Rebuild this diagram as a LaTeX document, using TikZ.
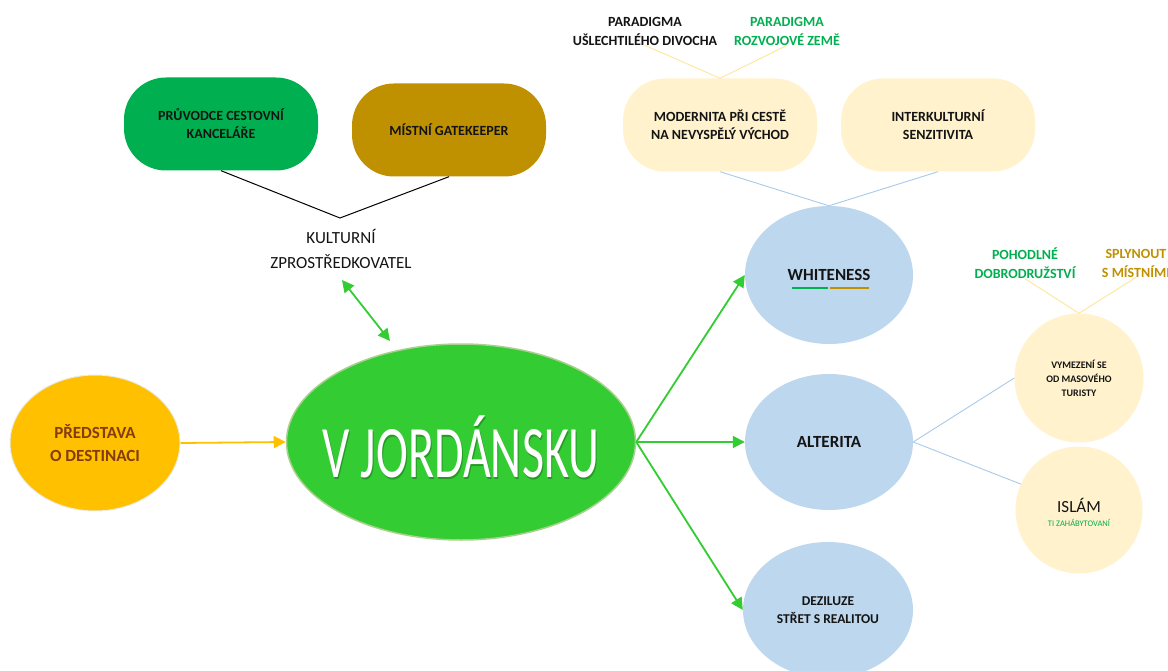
\documentclass[tikz,border=0pt]{standalone}
\usepackage{fontspec}
\setmainfont{Carlito}
\newfontfamily\titlefont[FakeStretch=0.65]{Carlito}
\usetikzlibrary{shapes.geometric,arrows.meta}
\definecolor{cOrange}{HTML}{FFC000}
\definecolor{cBrownTxt}{HTML}{843C0C}
\definecolor{cMainGreen}{HTML}{33CC33}
\definecolor{cMainBorder}{HTML}{A9D18E}
\definecolor{cGreen}{HTML}{00B050}
\definecolor{cGold}{HTML}{BF9000}
\definecolor{cPale}{HTML}{FFF2CC}
\definecolor{cPaleLine}{HTML}{FFE699}
\definecolor{cBlue}{HTML}{BDD7EE}
\definecolor{cBlueLine}{HTML}{A9CBEA}
\definecolor{cArrow}{HTML}{33CC33}
\definecolor{cTxt}{HTML}{141414}
\tikzset{
  pill/.style={rectangle, rounded corners=42pt, minimum width=194pt, minimum height=93pt, inner sep=0pt, align=center, text=cTxt, font=\bfseries\fontsize{14}{18}\selectfont},
  oval/.style={ellipse, inner sep=0pt, align=center, text=cTxt},
  lbl/.style={align=center, inner sep=0pt, font=\bfseries\fontsize{14}{19}\selectfont},
  garrow/.style={draw=cArrow, line width=1.8pt, -{Triangle[length=12pt,width=12pt]}},
  plline/.style={draw=cPaleLine, line width=0.9pt},
  blline/.style={draw=cBlueLine, line width=0.9pt}
}
\begin{document}
\begin{tikzpicture}[x=1pt,y=-1pt]
\useasboundingbox[fill=white] (0,0) rectangle (1168,671);
\begin{scope}
\clip (0,0) rectangle (1168,671);
% left part
\node[oval, fill=cOrange, draw=black!8, line width=1pt, minimum width=170pt, minimum height=136pt, text=cBrownTxt, font=\bfseries\fontsize{17}{23}\selectfont] (pred) at (95,443) {PŘEDSTAVA\\O DESTINACI};
\node[oval, fill=cMainGreen, draw=cMainBorder, line width=1.5pt, minimum width=349pt, minimum height=196pt] (main) at (461,442) {};
\node[text=black!25!cMainGreen, inner sep=0pt, font=\titlefont\fontsize{74}{74}\selectfont] at (462,449) {V JORDÁNSKU};
\node[text=white, inner sep=0pt, font=\titlefont\fontsize{74}{74}\selectfont] (title) at (461,447) {V JORDÁNSKU};
\draw[draw=cOrange, line width=1.8pt, -{Triangle[length=12pt,width=12pt]}] (pred.east) -- (main.west);

\node[pill, fill=cGreen] (pruv) at (221,124) {PRŮVODCE CESTOVNÍ\\KANCELÁŘE};
\node[pill, fill=cGold] (gate) at (449,130) {MÍSTNÍ GATEKEEPER};
\coordinate (apex) at (340,218);
\draw[black, line width=1pt] (pruv.south) -- (apex) -- (gate.south);
\node[align=center, inner sep=0pt, text=cTxt, font=\fontsize{17}{25}\selectfont] (kult) at (341,249) {KULTURNÍ\\ZPROSTŘEDKOVATEL};
\coordinate (da1) at (342,280);
\coordinate (da2) at (390,341);
\draw[draw=cArrow, line width=1.8pt, {Triangle[length=12pt,width=12pt]}-{Triangle[length=12pt,width=12pt]}] (da1) -- (da2);

% right column
\node[oval, fill=cBlue, minimum width=168pt, minimum height=138pt, font=\bfseries\fontsize{17}{20}\selectfont] (white) at (829,275) {WHITENESS};
\draw[cGreen, line width=2pt] (792,288.5) -- (828,288.5);
\draw[cGold, line width=2pt] (830,288.5) -- (869,288.5);
\node[oval, fill=cBlue, minimum width=168pt, minimum height=136pt, font=\bfseries\fontsize{17}{20}\selectfont] (alt) at (829,442) {ALTERITA};
\node[oval, fill=cBlue, minimum width=170pt, minimum height=136pt, font=\bfseries\fontsize{13.5}{18}\selectfont] (dez) at (828,610) {DEZILUZE\\STŘET S REALITOU};
\draw[garrow] (main.east) -- (white.west);
\draw[garrow] (main.east) -- (alt.west);
\draw[garrow] (main.east) -- (dez.west);

\node[pill, fill=cPale] (mod) at (720,125) {MODERNITA PŘI CESTĚ\\NA NEVYSPĚLÝ VÝCHOD};
\node[pill, fill=cPale] (inter) at (938,125) {INTERKULTURNÍ\\SENZITIVITA};
\draw[blline] (mod.south) -- (white.north) -- (inter.south);

\node[lbl, text=cTxt] (par1) at (645,31) {PARADIGMA\\UŠLECHTILÉHO DIVOCHA};
\node[lbl, text=cGreen] (par2) at (787,31) {PARADIGMA\\ROZVOJOVÉ ZEMĚ};
\draw[plline] (par1.south) -- (mod.north) -- (par2.south);

\node[circle, fill=cPale, minimum size=129pt, inner sep=0pt, align=center, text=cTxt, font=\bfseries\fontsize{10}{14}\selectfont] (vym) at (1079,378) {VYMEZENÍ SE\\OD MASOVÉHO\\TURISTY};
\node[circle, fill=cPale, minimum size=127pt, inner sep=0pt] (isl) at (1079,510) {};
\node[inner sep=0pt, text=cTxt, font=\fontsize{17}{20}\selectfont] (islt) at (1079,505) {ISLÁM};
\node[inner sep=0pt, text=cGreen, font=\fontsize{8.5}{10}\selectfont] (islsub) at (1079,523) {TI ZAHÁBYTOVANÍ};
\draw[blline] (vym.west) -- (alt.east) -- (isl.156);

\node[lbl, text=cGreen] (poh) at (1025,263) {POHODLNÉ\\DOBRODRUŽSTVÍ};
\node[lbl, text=cGold] (spl) at (1136,263) {SPLYNOUT\\S MÍSTNÍMI};
\draw[plline] (poh.south) -- (vym.north) -- (spl.south);
\end{scope}
\end{tikzpicture}
\end{document}
